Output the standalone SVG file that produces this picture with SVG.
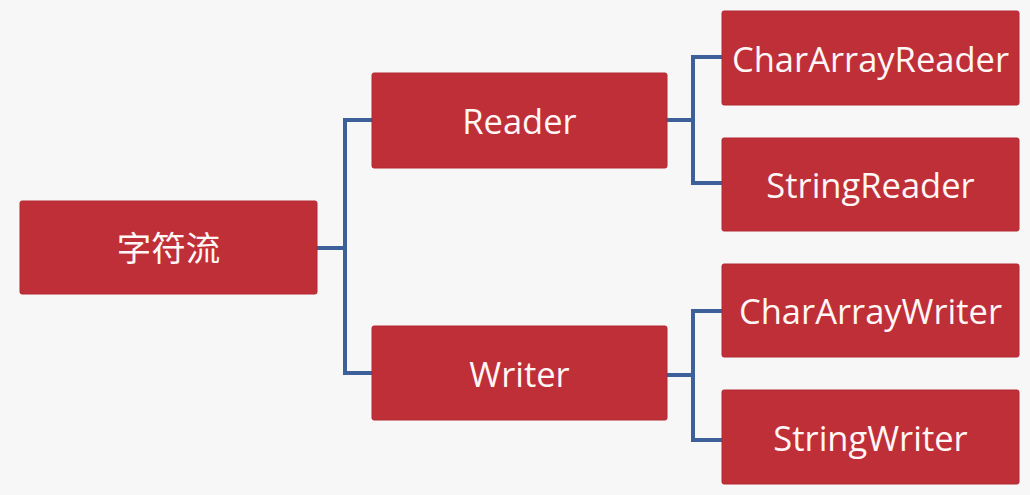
<svg xmlns="http://www.w3.org/2000/svg" width="1030" height="495" viewBox="0 0 1030 495">
<style>
.box{fill:#BF2F38;stroke:#B32A33;stroke-width:1}
.lbl{fill:#FFF6F6;font-family:"Open Sans","Noto Sans CJK SC",sans-serif;font-size:34.5px;text-anchor:middle;dominant-baseline:central}
.conn{fill:none;stroke:#3D5F9A;stroke-width:4}
</style>
<rect width="1030" height="495" fill="#F7F7F7"/>
<g id="connectors">
<path class="conn" d="M317,248 H345 M372,120 H345 V373 H372"/>
<path class="conn" d="M667,120 H693 M722,57 H693 V183 H722"/>
<path class="conn" d="M667,375 H693 M722,311 H693 V440 H722"/>
</g>
<g id="root"><rect class="box" x="20" y="201" width="297" height="93" rx="2"/><text class="lbl" x="168.5" y="247.5">字符流</text></g>
<g id="reader"><rect class="box" x="372" y="73" width="295" height="95" rx="2"/><text class="lbl" x="519.5" y="120.5">Reader</text></g>
<g id="writer"><rect class="box" x="372" y="326" width="295" height="94" rx="2"/><text class="lbl" x="519.5" y="373">Writer</text></g>
<g id="chararrayreader"><rect class="box" x="722" y="11" width="297" height="94" rx="2"/><text class="lbl" x="870.5" y="58">CharArrayReader</text></g>
<g id="stringreader"><rect class="box" x="722" y="138" width="297" height="93" rx="2"/><text class="lbl" x="870.5" y="184.5">StringReader</text></g>
<g id="chararraywriter"><rect class="box" x="722" y="264" width="297" height="93" rx="2"/><text class="lbl" x="870.5" y="310.5">CharArrayWriter</text></g>
<g id="stringwriter"><rect class="box" x="722" y="390" width="297" height="94" rx="2"/><text class="lbl" x="870.5" y="437">StringWriter</text></g>
</svg>
